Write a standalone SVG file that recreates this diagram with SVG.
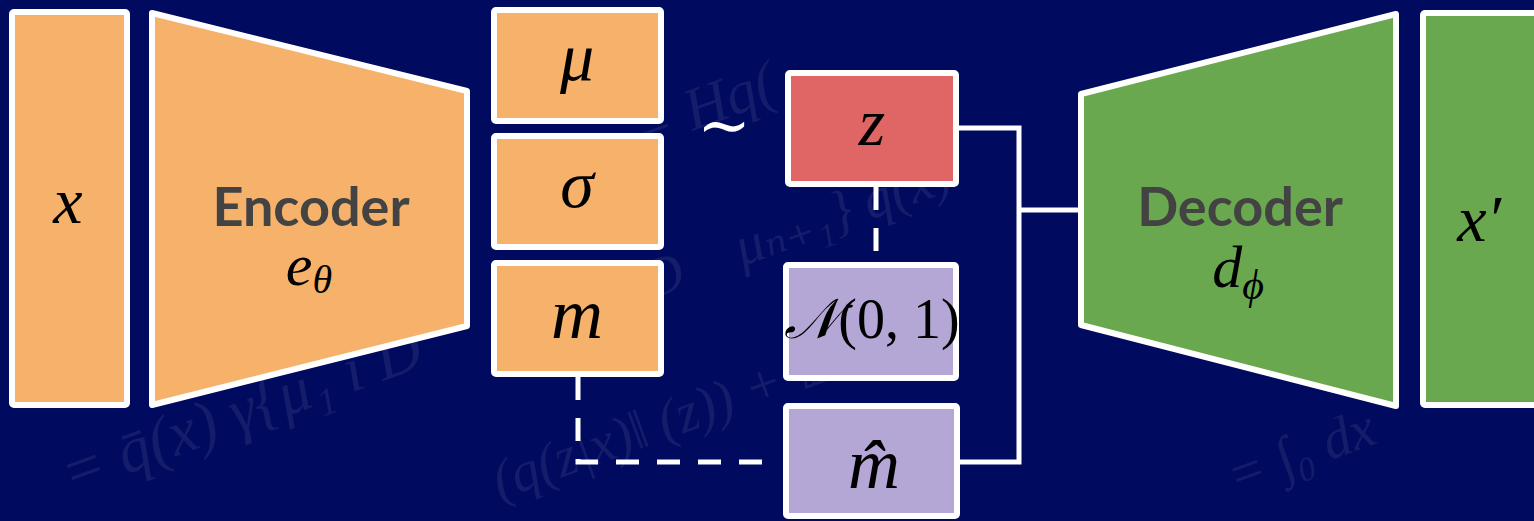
<svg xmlns="http://www.w3.org/2000/svg" width="1534" height="521" viewBox="0 0 1534 521">
<defs>
<style>
.bg{fill:#000a5e}
.box{stroke:#ffffff;stroke-width:6;stroke-linejoin:round}
.or{fill:#f6b26b}
.rd{fill:#e06666}
.pu{fill:#b4a7d6}
.gr{fill:#6aa84f}
.lbl{font-family:Lato,"Open Sans","Liberation Sans",sans-serif;font-weight:700;font-size:54px;fill:#434343;text-anchor:middle}
.m{font-family:"Liberation Serif","DejaVu Serif",serif;font-style:italic;fill:#000000;text-anchor:middle}
.mu{font-family:"Liberation Serif","DejaVu Serif",serif;fill:#000000;text-anchor:middle}
.ln{fill:none;stroke:#ffffff;stroke-width:5}
.dash{stroke-dasharray:23 18}
.bgf{font-family:"Liberation Serif","DejaVu Serif",serif;font-style:italic;fill:#ffffff;fill-opacity:0.08}
</style>
</defs>
<rect class="bg" x="0" y="0" width="1534" height="521"/>
<g id="background-formulas">
<text class="bgf" font-size="64" transform="translate(70 495) rotate(-20)">= q̄(x) γ{μ₁ i D</text>
<text class="bgf" font-size="60" transform="translate(640 150) rotate(-20)">= Hq(</text>
<text class="bgf" font-size="56" transform="translate(650 300) rotate(-20)">D⃗ μₙ₊₁} q(x)</text>
<text class="bgf" font-size="56" transform="translate(500 500) rotate(-20)">(q(z|x)‖  (z)) + 𝔼</text>
<text class="bgf" font-size="56" transform="translate(1235 495) rotate(-20)">= ∫₀  dx</text>
</g>
<g id="connectors">
<path class="ln" d="M959 128 H1019 V462 H960"/>
<path class="ln" d="M1019 210 H1081"/>
<path class="ln dash" d="M876 187 V262"/>
<path class="ln dash" d="M578 377 V462 H772"/>
</g>
<g id="node-x">
<rect class="box or" x="12" y="12" width="115" height="393" rx="2"/>
<text class="m" x="68" y="223" font-size="66">x</text>
</g>
<g id="node-encoder">
<polygon class="box or" points="152,13 467,91 467,326 152,405"/>
<text class="lbl" x="311" y="226">Encoder</text>
<text class="m" x="309" y="285" font-size="60">e<tspan font-size="40" dy="8">θ</tspan></text>
</g>
<g id="node-mu">
<rect class="box or" x="494" y="10" width="167" height="111" rx="2"/>
<text class="m" x="577" y="80" font-size="68">μ</text>
</g>
<g id="node-sigma">
<rect class="box or" x="494" y="136" width="167" height="111" rx="2"/>
<text class="m" x="577" y="207" font-size="68">σ</text>
</g>
<g id="node-m">
<rect class="box or" x="494" y="263" width="167" height="111" rx="2"/>
<text class="m" x="577" y="338" font-size="72">m</text>
</g>
<g id="tilde">
<text class="mu" x="724" y="147" font-size="64" style="fill:#ffffff">∼</text>
</g>
<g id="node-z">
<rect class="box rd" x="788" y="73" width="168" height="111" rx="2"/>
<text class="m" x="872" y="145" font-size="68">z</text>
</g>
<g id="node-normal">
<rect class="box pu" x="786" y="265" width="170" height="113" rx="2"/>
<text class="mu" x="872" y="338" font-size="56"><tspan font-style="italic">𝒩</tspan>(0, 1)</text>
</g>
<g id="node-mhat">
<rect class="box pu" x="786" y="406" width="171" height="110" rx="2"/>
<text class="m" x="874" y="488" font-size="72">m̂</text>
</g>
<g id="node-decoder">
<polygon class="box gr" points="1081,94 1396,14 1396,406 1081,325"/>
<text class="lbl" x="1240" y="226">Decoder</text>
<text class="m" x="1238" y="287" font-size="60">d<tspan font-size="42" dy="12">ϕ</tspan></text>
</g>
<g id="node-xprime">
<rect class="box gr" x="1423" y="13" width="130" height="392" rx="2"/>
<text class="m" x="1479" y="241" font-size="66">x′</text>
</g>
</svg>
